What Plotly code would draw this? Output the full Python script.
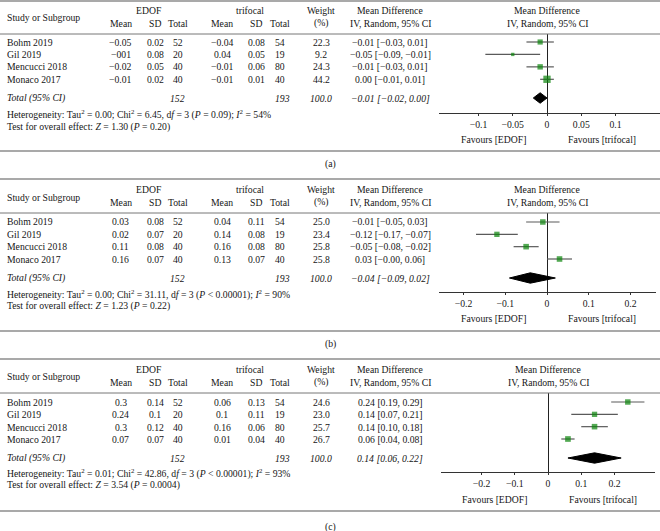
import math
import plotly.graph_objects as go

W, H = 660, 531
FONT = "Liberation Serif"
TXT = "#151515"
MINUS = "\u2212"
FS = 9.7

studies = ["Bohm 2019", "Gil 2019", "Mencucci 2018", "Monaco 2017"]

# ---- panel (a) ----
a_edof_mean = ["\u22120.05", "\u2212001", "\u22120.02", "\u22120.01"]
a_edof_sd = ["0.02", "0.08", "0.05", "0.02"]
a_edof_n = [52, 20, 40, 40]
a_tri_mean = ["\u22120.04", "0.04", "\u22120.01", "\u22120.01"]
a_tri_sd = ["0.08", "0.05", "0.06", "0.01"]
a_tri_n = [54, 19, 80, 40]
a_weight = [22.3, 9.2, 24.3, 44.2]
a_md = [-0.01, -0.05, -0.01, 0.00]
a_lo = [-0.03, -0.09, -0.03, -0.01]
a_hi = [0.01, -0.01, 0.01, 0.01]
a_total = [-0.01, -0.02, 0.00]
a_het = ["0.00", "6.45", "(<i>P</i> = 0.09)", "54%"]
a_test = ["1.30", "(<i>P</i> = 0.20)"]
a_ticks = [-0.1, -0.05, 0, 0.05, 0.1]
a_ticklabels = ["\u22120.1", "\u22120.05", "0", "0.05", "0.1"]

# ---- panel (b) ----
b_edof_mean = ["0.03", "0.02", "0.11", "0.16"]
b_edof_sd = ["0.08", "0.07", "0.08", "0.07"]
b_edof_n = [52, 20, 40, 40]
b_tri_mean = ["0.04", "0.14", "0.16", "0.13"]
b_tri_sd = ["0.11", "0.08", "0.08", "0.07"]
b_tri_n = [54, 19, 80, 40]
b_weight = [25.0, 23.4, 25.8, 25.8]
b_md = [-0.01, -0.12, -0.05, 0.03]
b_lo = [-0.05, -0.17, -0.08, -0.0]
b_hi = [0.03, -0.07, -0.02, 0.06]
b_total = [-0.04, -0.09, 0.02]
b_het = ["0.00", "31.11", "(<i>P</i> &lt; 0.00001)", "90%"]
b_test = ["1.23", "(<i>P</i> = 0.22)"]
b_ticks = [-0.2, -0.1, 0, 0.1, 0.2]
b_ticklabels = ["\u22120.2", "\u22120.1", "0", "0.1", "0.2"]

# ---- panel (c) ----
c_edof_mean = ["0.3", "0.24", "0.3", "0.07"]
c_edof_sd = ["0.14", "0.1", "0.12", "0.07"]
c_edof_n = [52, 20, 40, 40]
c_tri_mean = ["0.06", "0.1", "0.16", "0.01"]
c_tri_sd = ["0.13", "0.11", "0.06", "0.04"]
c_tri_n = [54, 19, 80, 40]
c_weight = [24.6, 23.0, 25.7, 26.7]
c_md = [0.24, 0.14, 0.14, 0.06]
c_lo = [0.19, 0.07, 0.10, 0.04]
c_hi = [0.29, 0.21, 0.18, 0.08]
c_total = [0.14, 0.06, 0.22]
c_het = ["0.01", "42.86", "(<i>P</i> &lt; 0.00001)", "93%"]
c_test = ["3.54", "(<i>P</i> = 0.0004)"]
c_ticks = [-0.2, -0.1, 0, 0.1, 0.2]
c_ticklabels = ["\u22120.2", "\u22120.1", "0", "0.1", "0.2"]

total_edof_n = 152
total_tri_n = 193

data = [
    dict(em=a_edof_mean, es=a_edof_sd, en=a_edof_n, tm=a_tri_mean, ts=a_tri_sd, tn=a_tri_n,
         w=a_weight, md=a_md, lo=a_lo, hi=a_hi, tot=a_total, het=a_het, test=a_test,
         ticks=a_ticks, tl=a_ticklabels, label="(a)"),
    dict(em=b_edof_mean, es=b_edof_sd, en=b_edof_n, tm=b_tri_mean, ts=b_tri_sd, tn=b_tri_n,
         w=b_weight, md=b_md, lo=b_lo, hi=b_hi, tot=b_total, het=b_het, test=b_test,
         ticks=b_ticks, tl=b_ticklabels, label="(b)"),
    dict(em=c_edof_mean, es=c_edof_sd, en=c_edof_n, tm=c_tri_mean, ts=c_tri_sd, tn=c_tri_n,
         w=c_weight, md=c_md, lo=c_lo, hi=c_hi, tot=c_total, het=c_het, test=c_test,
         ticks=c_ticks, tl=c_ticklabels, label="(c)"),
]

# layout in pixels (positions only)
layout_px = [
    dict(top=1, h1=11, hm=17, h2=23, hline=34, rows=[42, 54.5, 67, 79.3], total=98, axis=113,
         fav=139, het=114, test=127, bottom=151, lab=164, x0=439, x1=660, zero=547, ppu=685),
    dict(top=179, h1=190, hm=197, h2=202, hline=213, rows=[222, 234.5, 247, 259], total=278, axis=292,
         fav=318, het=294, test=306, bottom=331, lab=344, x0=439, x1=656, zero=547, ppu=417.5),
    dict(top=359, h1=369, hm=376, h2=382, hline=393, rows=[402, 414.5, 427, 439], total=458, axis=472,
         fav=499, het=473, test=485, bottom=511, lab=527, x0=441, x1=655, zero=548, ppu=332.5),
]

COL = dict(name=5, em=121, es=155, en=178, tm=222, ts=256, tn=280, w=321, ci=390)


def px(x):
    return x / W


def py(y):
    return 1 - y / H


def fmt(v):
    return f"{v:.2f}".replace("-", MINUS)


annotations = []
shapes = []


def txt(x, y, s, anchor="center", italic=False, size=FS):
    if italic:
        s = f"<i>{s}</i>"
    annotations.append(dict(x=px(x), y=py(y), xref="paper", yref="paper", text=s,
                            showarrow=False, xanchor=anchor, yanchor="middle",
                            font=dict(family=FONT, size=size, color=TXT)))


def hline(y, color="#555", width=1.2):
    shapes.append(dict(type="line", xref="paper", yref="paper", x0=0, x1=1, y0=py(y), y1=py(y),
                       line=dict(color=color, width=width)))


fig = go.Figure()
layout_axes = {}

for i, (d, L) in enumerate(zip(data, layout_px)):
    k = "" if i == 0 else str(i + 1)
    xa, ya = "x" + k, "y" + k
    rows = L["rows"]
    s = (rows[3] - rows[0]) / 3
    t_idx = 3 + (L["total"] - rows[3]) / s
    y_top = -(rows[0] - L["hline"]) / s
    y_bot = 3 + (L["axis"] - rows[3]) / s
    xr0 = (L["x0"] - L["zero"]) / L["ppu"]
    xr1 = (L["x1"] - L["zero"]) / L["ppu"]

    # lines
    hline(L["top"])
    hline(L["hline"], color="#777", width=1)
    hline(L["bottom"])

    # headers
    txt(COL["name"], L["hm"], "Study or Subgroup", anchor="left")
    txt(149, L["h1"], "EDOF")
    txt(250, L["h1"], "trifocal")
    txt(COL["em"], L["h2"], "Mean")
    txt(COL["es"], L["h2"], "SD")
    txt(COL["en"], L["h2"], "Total")
    txt(COL["tm"], L["h2"], "Mean")
    txt(COL["ts"], L["h2"], "SD")
    txt(COL["tn"], L["h2"], "Total")
    txt(COL["w"], L["h1"], "Weight")
    txt(COL["w"], L["h2"], "(%)")
    txt(COL["ci"], L["h1"], "Mean Difference")
    txt(COL["ci"], L["h2"], "IV, Random, 95% CI")
    txt(L["zero"], L["h1"], "Mean Difference")
    txt(L["zero"], L["h2"], "IV, Random, 95% CI")

    # rows
    for j, name in enumerate(studies):
        y = rows[j]
        txt(COL["name"], y, name, anchor="left")
        txt(COL["em"], y, d["em"][j])
        txt(COL["es"], y, d["es"][j])
        txt(COL["en"], y, str(d["en"][j]))
        txt(COL["tm"], y, d["tm"][j])
        txt(COL["ts"], y, d["ts"][j])
        txt(COL["tn"], y, str(d["tn"][j]))
        txt(COL["w"], y, f"{d['w'][j]:.1f}")
        txt(COL["ci"], y, f"{fmt(d['md'][j])} [{fmt(d['lo'][j])}, {fmt(d['hi'][j])}]")

    # total row
    tm, tl, th = d["tot"]
    txt(COL["name"], L["total"], "Total (95% CI)", anchor="left", italic=True)
    txt(COL["en"] - 1, L["total"], str(total_edof_n), italic=True)
    txt(COL["tn"] + 2, L["total"], str(total_tri_n), italic=True)
    txt(COL["w"], L["total"], f"{sum(d['w']):.1f}", italic=True)
    txt(COL["ci"], L["total"], f"{fmt(tm)} [{fmt(tl)}, {fmt(th)}]", italic=True)

    tau, chi, p, i2 = d["het"]
    txt(COL["name"], L["het"],
        f"Heterogeneity: Tau<sup>2</sup> = {tau}; Chi<sup>2</sup> = {chi}, d<i>f</i> = 3 {p}; "
        f"<i>I</i><sup>2</sup> = {i2}", anchor="left")
    z, pz = d["test"]
    txt(COL["name"], L["test"], f"Test for overall effect: <i>Z</i> = {z} {pz}", anchor="left")

    # favours + panel label
    txt(L["zero"] - 54, L["fav"], "Favours [EDOF]")
    txt(L["zero"] + 55, L["fav"], "Favours [trifocal]")
    txt(330, L["lab"], d["label"])

    # study markers with CI
    fig.add_trace(go.Scatter(
        x=d["md"], y=[0, 1, 2, 3], mode="markers", xaxis=xa, yaxis=ya,
        marker=dict(symbol="square", color="#0a850a",
                    size=[1.1 * math.sqrt(w) for w in d["w"]], line=dict(width=0)),
        error_x=dict(type="data", symmetric=False,
                     array=[h - m for h, m in zip(d["hi"], d["md"])],
                     arrayminus=[m - l for m, l in zip(d["md"], d["lo"])],
                     color="#5a5a5a", thickness=1.2, width=0),
        hoverinfo="skip", showlegend=False, cliponaxis=False))

    # pooled diamond
    hh = 0.42
    fig.add_trace(go.Scatter(
        x=[tl, tm, th, tm, tl], y=[t_idx, t_idx - hh, t_idx, t_idx + hh, t_idx],
        mode="lines", fill="toself", fillcolor="black", line=dict(color="black", width=1),
        xaxis=xa, yaxis=ya, hoverinfo="skip", showlegend=False))

    layout_axes["xaxis" + k] = dict(
        domain=[px(L["x0"]), px(L["x1"])], range=[xr0, xr1], anchor=ya,
        tickmode="array", tickvals=d["ticks"], ticktext=d["tl"],
        showline=True, linecolor="#333", linewidth=1, ticks="outside", ticklen=2,
        tickcolor="#333", showgrid=False, zeroline=True, zerolinecolor="#222",
        zerolinewidth=1, tickfont=dict(family=FONT, size=FS, color=TXT), fixedrange=True)
    layout_axes["yaxis" + k] = dict(
        domain=[py(L["axis"]), py(L["hline"])], range=[y_bot, y_top], anchor=xa,
        visible=False, showgrid=False, zeroline=False, fixedrange=True)

fig.update_layout(
    width=W, height=H, margin=dict(l=0, r=0, t=0, b=0),
    paper_bgcolor="white", plot_bgcolor="white",
    annotations=annotations, shapes=shapes, showlegend=False,
    font=dict(family=FONT, size=FS, color=TXT),
    **layout_axes)

fig.write_html(
    "out.html",
    config={"displayModeBar": False},
    post_script="document.body.style.margin='0';document.body.style.overflow='hidden';"
                "document.documentElement.style.overflow='hidden';")
